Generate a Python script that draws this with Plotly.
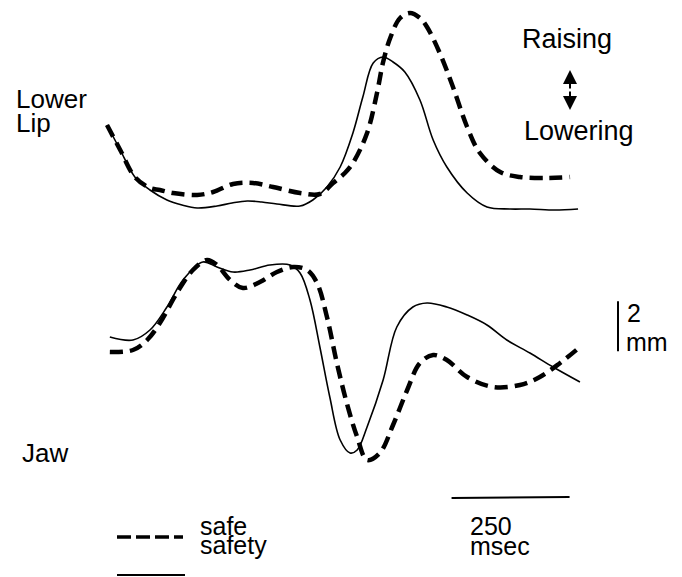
import plotly.graph_objects as go

# ---------------- data (time in msec, position in mm) ----------------
lip_safe_t = [0, 28, 59, 91, 112, 140, 191, 225, 267, 309, 352, 409, 451, 479, 504, 521, 551,
              572, 585, 600, 621, 642, 663, 678, 705, 733, 763, 790, 833, 875, 932, 981]
lip_safe_mm = [3.6, 2.6, 1.52, 1.08, 1.0, 0.88, 0.8, 0.92, 1.24, 1.28, 1.12, 0.88, 0.84, 1.28, 1.68,
               2.08, 3.28, 4.88, 6.12, 7.08, 7.88, 8.08, 7.88, 7.52, 6.48, 5.12, 3.52, 2.48, 1.72,
               1.52, 1.48, 1.52]

lip_safety_t = [0, 28, 59, 91, 127, 159, 191, 233, 265, 297, 328, 360, 409, 436, 466, 494, 521,
                542, 564, 585, 606, 631, 663, 691, 720, 763, 805, 854, 896, 949, 998]
lip_safety_mm = [3.6, 2.6, 1.52, 1.0, 0.6, 0.4, 0.28, 0.36, 0.48, 0.56, 0.52, 0.44, 0.36, 0.6,
                 1.12, 1.92, 3.28, 4.72, 6.08, 6.32, 6.12, 5.72, 4.6, 3.0, 1.92, 0.88, 0.32, 0.24,
                 0.24, 0.2, 0.24]

jaw_safe_t = [6, 55, 85, 112, 148, 182, 212, 233, 261, 288, 324, 360, 394, 424, 445, 466, 487,
              508, 530, 551, 578, 606, 636, 663, 691, 720, 763, 818, 875, 917, 960, 1002]
jaw_safe_mm = [4.52, 4.6, 5.0, 5.68, 6.88, 7.8, 8.2, 8.0, 7.4, 7.08, 7.32, 7.72, 7.92, 7.8, 7.28,
               5.92, 4.08, 2.48, 1.12, 0.2, 0.48, 1.6, 3.0, 4.08, 4.4, 4.2, 3.52, 3.12, 3.2, 3.52,
               4.08, 4.72]

jaw_safety_t = [6, 55, 91, 127, 161, 203, 233, 267, 303, 345, 388, 409, 430, 451, 472, 494, 515,
                530, 551, 585, 614, 648, 678, 720, 763, 805, 847, 896, 945, 1002]
jaw_safety_mm = [5.12, 5.0, 5.4, 6.32, 7.4, 8.12, 7.92, 7.72, 7.8, 8.0, 8.0, 7.68, 6.6, 4.72, 2.72,
                 1.0, 0.48, 0.6, 1.52, 3.4, 5.52, 6.32, 6.48, 6.32, 6.0, 5.6, 5.0, 4.48, 3.92, 3.32]

series_names = ["safe", "safety"]
scale_time_ms = 250
scale_mm = 2

# ---------------- figure ----------------
W, H = 682, 577
FONT = "Liberation Sans, Arial, Helvetica, sans-serif"

dash_style = dict(color="black", width=4.5, dash="13px,7px")
solid_style = dict(color="black", width=1.6)

fig = go.Figure()
fig.add_trace(go.Scatter(x=lip_safe_t, y=lip_safe_mm, mode="lines", line=dash_style,
                         line_shape="spline", name=series_names[0], yaxis="y"))
fig.add_trace(go.Scatter(x=lip_safety_t, y=lip_safety_mm, mode="lines", line=solid_style,
                         line_shape="spline", name=series_names[1], yaxis="y"))
fig.add_trace(go.Scatter(x=jaw_safe_t, y=jaw_safe_mm, mode="lines", line=dash_style,
                         line_shape="spline", name=series_names[0], yaxis="y2"))
fig.add_trace(go.Scatter(x=jaw_safety_t, y=jaw_safety_mm, mode="lines", line=solid_style,
                         line_shape="spline", name=series_names[1], yaxis="y2"))


def px(x):
    return x / W


def py(y):
    return 1 - y / H


def label(text, x, y, size=26):
    fig.add_annotation(text=text, x=px(x), y=py(y), xref="paper", yref="paper",
                       xanchor="left", yanchor="middle", showarrow=False,
                       font=dict(family=FONT, size=size, color="black"))


label("Lower", 14, 99)
label("Lip", 14, 123)
label("Jaw", 20, 453)
label("Raising", 520, 39, 27)
label("Lowering", 522, 131, 27)
label("2", 625, 313, 25)
label("mm", 624, 342, 25)
label("250", 468, 526, 25)
label("msec", 468, 546, 25)
label("safe", 198, 526, 25)
label("safety", 198, 545, 25)

# double arrow Raising / Lowering
for tip, off in [(70, 20), (110, -20)]:
    fig.add_annotation(x=px(570), y=py(tip), xref="paper", yref="paper", text="",
                       showarrow=True, ax=0, ay=off, arrowhead=2, arrowsize=1.4,
                       arrowwidth=2, arrowcolor="black")

# time scale bar (250 msec)
t0 = 730
fig.add_shape(type="line", xref="x", yref="paper", x0=t0, x1=t0 + scale_time_ms,
              y0=py(498), y1=py(497), line=dict(color="black", width=2.2))
# amplitude scale bar (2 mm) on jaw axis
m0 = 4.55
fig.add_shape(type="line", xref="paper", yref="y2", x0=px(618), x1=px(618),
              y0=m0, y1=m0 + scale_mm, line=dict(color="black", width=2))

# legend samples
fig.add_shape(type="line", xref="paper", yref="paper", x0=px(117), x1=px(183),
              y0=py(537), y1=py(537), line=dict(color="black", width=3.5, dash="14px,5px"))
fig.add_shape(type="line", xref="paper", yref="paper", x0=px(117), x1=px(185),
              y0=py(575), y1=py(575), line=dict(color="black", width=2))

axis_off = dict(visible=False, showgrid=False, zeroline=False, fixedrange=True)
fig.update_layout(
    width=W, height=H,
    margin=dict(l=0, r=0, t=0, b=0),
    paper_bgcolor="white", plot_bgcolor="white",
    showlegend=False,
    xaxis=dict(range=[-226.7, 1218.2], domain=[0, 1], **axis_off),
    yaxis=dict(range=[-14.48, 8.6], domain=[0, 1], **axis_off),
    yaxis2=dict(range=[-4.48, 18.6], domain=[0, 1], overlaying="y", **axis_off),
)

fig.write_html("out.html", config={"displayModeBar": False},
               post_script="document.body.style.margin='0px';"
                           "document.body.style.overflow='hidden';")
